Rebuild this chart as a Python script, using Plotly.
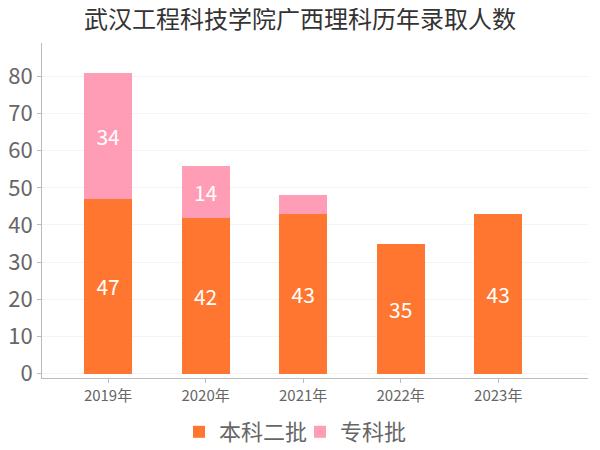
import plotly.graph_objects as go

# data
years = ["2019年", "2020年", "2021年", "2022年", "2023年"]
benke2 = [47, 42, 43, 35, 43]
zhuanke = [34, 14, 5, 0, 0]
zhuanke_labels = ["34", "14", "", "", ""]

font = "Noto Sans CJK SC, Noto Sans, sans-serif"

# the page puts the figure 8px in from the top-left corner
W, H = 592, 442

fig = go.Figure()
fig.add_trace(go.Bar(
    x=list(range(len(years))), y=benke2, name="本科二批",
    marker=dict(color="#ff7630", line=dict(width=0)),
    text=[str(v) for v in benke2], textposition="inside",
    insidetextanchor="middle",
    textfont=dict(color="white", size=21, family=font),
    width=0.49,
))
fig.add_trace(go.Bar(
    x=list(range(len(years))), y=zhuanke, name="专科批",
    marker=dict(color="#ff9cb6", line=dict(width=0)),
    text=zhuanke_labels, textposition="inside",
    insidetextanchor="middle",
    textfont=dict(color="white", size=21, family=font),
    width=0.49,
))

fig.update_layout(
    barmode="stack",
    width=W, height=H,
    margin=dict(l=34, r=12, t=35, b=72),
    paper_bgcolor="white", plot_bgcolor="white",
    font=dict(family=font, color="#666"),
    title=dict(text="武汉工程科技学院广西理科历年录取人数", x=292 / W, xanchor="center",
               xref="container", y=1 - 12 / H, yanchor="middle", yref="container",
               font=dict(size=24, color="#333", family=font)),
    showlegend=True,
    legend=dict(orientation="h", x=292 / W, xanchor="center", xref="container",
                y=1 - 424 / H, yanchor="middle", yref="container",
                traceorder="normal", entrywidth=76,
                font=dict(size=22, color="#666", family=font),
                itemwidth=30, tracegroupgap=0),
    uniformtext=dict(mode="hide", minsize=14),
)
fig.update_xaxes(
    tickmode="array", tickvals=list(range(len(years))), ticktext=years,
    range=[-0.677, 4.92], automargin=False,
    showline=True, linecolor="#bbb", linewidth=1,
    ticks="outside", ticklen=4, tickcolor="#bbb",
    tickfont=dict(size=15, color="#666"),
    showgrid=False, zeroline=False,
)
fig.update_yaxes(
    range=[-1.2, 89], dtick=10, tick0=0, automargin=False,
    showline=True, linecolor="#bbb", linewidth=1,
    ticks="outside", ticklen=4, tickcolor="#bbb",
    tickfont=dict(size=22, color="#666"),
    showgrid=True, gridcolor="#f4f4f4", zeroline=False,
)

fig.write_html("out.html")
